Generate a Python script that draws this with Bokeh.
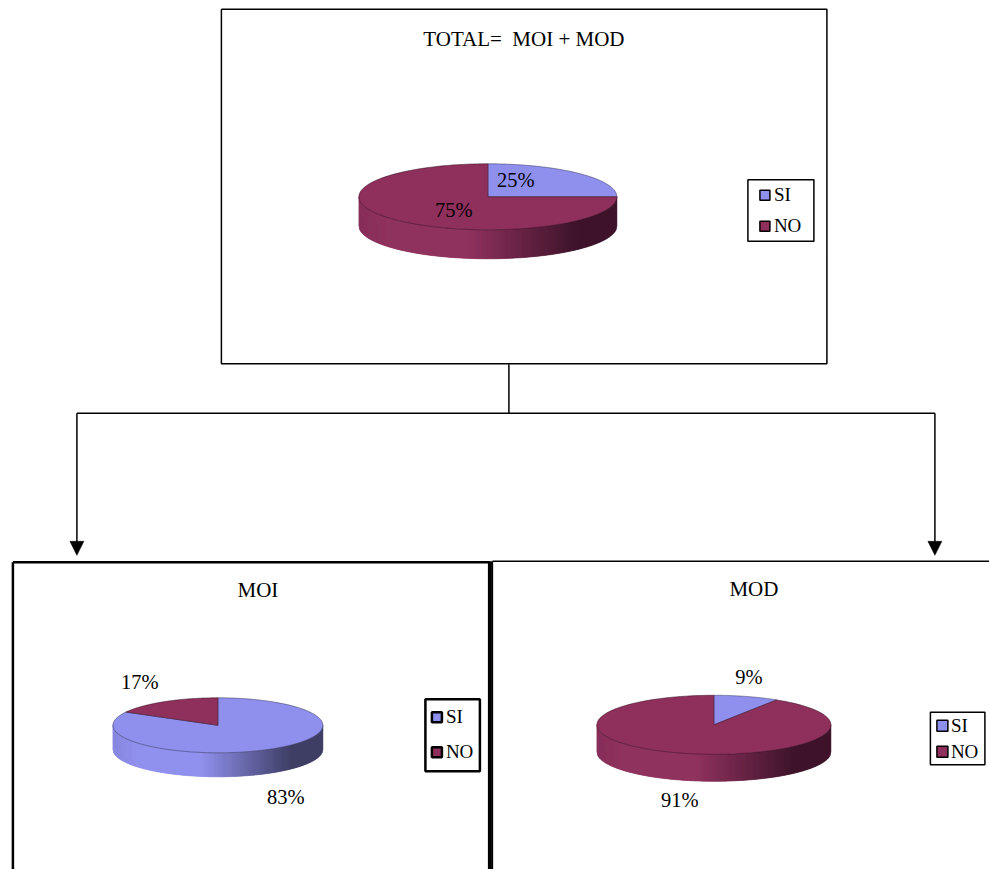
import numpy as np
from bokeh.plotting import figure
from bokeh.models import Range1d
from bokeh.core.properties import value
from bokeh.embed import file_html
from bokeh.resources import INLINE

categories = ["SI", "NO"]
total_values = [25, 75]
moi_values = [83, 17]
mod_values = [9, 91]
titles = ["TOTAL=\u00a0 MOI + MOD", "MOI", "MOD"]

SI_C, NO_C = "#8F8FEE", "#8F2F5C"
DARK = {SI_C: "#3B3B63", NO_C: "#3A1026"}
FONT = value("Liberation Serif")

p = figure(width=989, height=869, output_backend="svg", toolbar_location=None,
           x_range=Range1d(0.6, 989.6), y_range=Range1d(869.2, 0.2), min_border=0,
           outline_line_color=None, background_fill_color="white")
p.axis.visible = False
p.grid.visible = False
p.xaxis.visible = False
p.yaxis.visible = False


def mix(a, b, t):
    ca = [int(a[i:i + 2], 16) for i in (1, 3, 5)]
    cb = [int(b[i:i + 2], 16) for i in (1, 3, 5)]
    return "#%02x%02x%02x" % tuple(int(round(x + (y - x) * t)) for x, y in zip(ca, cb))


def pie(values, cx, cy, rx, ry, depth):
    cols = [SI_C, NO_C]
    edges = np.cumsum([0] + list(values)) / sum(values) * 2 * np.pi

    def colour_at(theta):
        for i in range(len(values)):
            if edges[i] <= theta <= edges[i + 1]:
                return cols[i]
        return cols[-1]

    # front wall: one thin strip per pixel, shaded left to right
    xs, ys, fc = [], [], []
    for x0 in np.arange(cx - rx, cx + rx):
        x1 = x0 + 1
        u0, u1 = (x0 - cx) / rx, (x1 - cx) / rx
        y0 = cy + ry * np.sqrt(max(0, 1 - u0 ** 2))
        y1 = cy + ry * np.sqrt(max(0, 1 - u1 ** 2))
        um = (u0 + u1) / 2
        base = colour_at(np.pi - np.arcsin(um))
        t = (x0 + 0.5 - (cx - rx)) / (2 * rx)
        shade = 0.12 * (1 - t / 0.12) if t < 0.12 else (0 if t < 0.42 else min(1, (t - 0.42) / 0.43))
        xs.append([x0, x1, x1, x0])
        ys.append([y0, y1, y1 + depth, y0 + depth])
        fc.append(mix(base, DARK[base], shade))
    p.patches(xs, ys, fill_color=fc, line_color=fc, line_width=0.6)

    # top face
    for i, c in enumerate(cols):
        th = np.linspace(edges[i], edges[i + 1], 120)
        px = np.r_[cx, cx + rx * np.sin(th)]
        py = np.r_[cy, cy - ry * np.cos(th)]
        p.patch(px, py, fill_color=c, line_color=DARK[NO_C] if c == NO_C else "#3B3B63",
                line_width=1, line_alpha=0.55)


def box(x0, y0, x1, y1, width):
    p.multi_line([[x0, x1, x1, x0, x0]], [[y0, y0, y1, y1, y0]], line_color="black", line_width=width)


def legend(x0, y0, x1, y1, sx, sy, ss, tx, bw, sbw):
    p.quad(left=x0, right=x1, top=y0, bottom=y1, fill_color="white", line_color="black", line_width=bw)
    for i, c in enumerate(categories):
        p.quad(left=sx, right=sx + ss, top=sy[i], bottom=sy[i] + ss,
               fill_color=[SI_C, NO_C][i], line_color="black", line_width=sbw)
        p.text([tx], [sy[i] + ss / 2 - 0.5], text=[c], text_font=FONT, text_font_size="19px",
               text_baseline="middle", text_align="left", text_color="black")


def label(x, y, s, size="20.5px"):
    p.text([x], [y - 1], text=[s], text_font=FONT, text_font_size=size,
           text_align="center", text_baseline="middle", text_color="black")


# frames
box(221.5, 9, 827, 363.5, 1.5)
box(13, 562, 489.5, 890, 2.5)
box(492.5, 561, 1010, 890, 1.5)
p.segment([490], [561], [490], [869], line_color="black", line_width=4)

# connector
p.multi_line([[509, 509], [77, 935], [77, 77], [935, 935]],
              [[364, 413], [413, 413], [413, 542], [413, 542]],
              line_color="black", line_width=1.5)
p.patches([[70, 84, 77], [928, 942, 935]], [[541, 541, 555], [541, 541, 555]],
          fill_color="black", line_color="black", line_width=0.5)

# pies
pie(total_values, 488, 196.5, 129, 33, 29)
pie(moi_values, 218, 725, 105, 27.5, 24)
pie(mod_values, 714, 724.5, 117, 29.5, 27)

# legends
legend(748, 179.5, 814, 241, 760, [190, 221], 10, 774, 1.5, 1.5)
legend(425.5, 699, 480, 771, 432, [712, 747], 10, 446, 2.5, 2.5)
legend(930.5, 712, 985, 764.5, 937, [720, 746], 11, 951, 1.5, 1.5)

# texts
label(524, 39.5, titles[0], "21px")
label(258, 590.5, titles[1], "21px")
label(754, 589.5, titles[2], "21px")
label(516, 181, f"{total_values[0]}%")
label(454, 211, f"{total_values[1]}%")
label(286, 798, f"{moi_values[0]}%")
label(140, 683, f"{moi_values[1]}%")
label(749, 678, f"{mod_values[0]}%")
label(680, 801, f"{mod_values[1]}%")

open("out.html", "w").write(file_html(p, INLINE))
